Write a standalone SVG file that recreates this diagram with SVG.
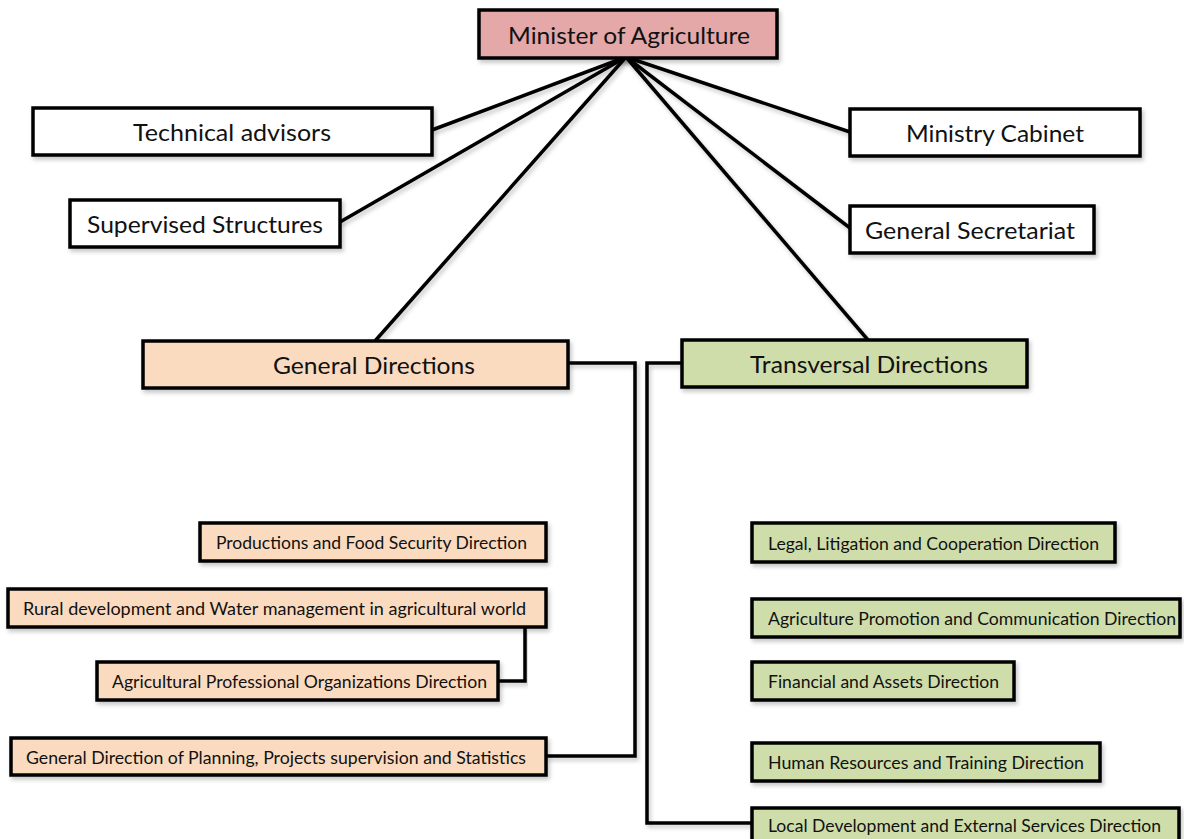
<svg xmlns="http://www.w3.org/2000/svg" width="1184" height="839" viewBox="0 0 1184 839">
  <defs>
    <filter id="shadow" x="-5%" y="-20%" width="115%" height="160%">
      <feDropShadow dx="2" dy="3" stdDeviation="2" flood-color="#000" flood-opacity="0.22"/>
    </filter>
  </defs>
  <style>
    .box { stroke: #000; stroke-width: 3.5; filter: url(#shadow); }
    .white { fill: #ffffff; }
    .minister { fill: #e4a8a8; }
    .general { fill: #fbdbbf; }
    .transversal { fill: #cfddab; }
    .big { font-family: Lato, "Open Sans", sans-serif; font-size: 23px; fill: #111; dominant-baseline: central; }
    .small { font-family: Lato, "Open Sans", sans-serif; font-size: 17px; fill: #111; dominant-baseline: central; }
    .link { fill: none; stroke: #000; stroke-width: 3.5; filter: url(#shadow); }
  </style>
  <rect width="1184" height="839" fill="#ffffff"/>

  <!-- connectors -->
  <g id="connectors">
    <line class="link" x1="626" y1="57" x2="432" y2="130"/>
    <line class="link" x1="626" y1="57" x2="340" y2="222"/>
    <line class="link" x1="626" y1="57" x2="375" y2="341"/>
    <line class="link" x1="626" y1="57" x2="850" y2="132"/>
    <line class="link" x1="626" y1="57" x2="850" y2="228"/>
    <line class="link" x1="626" y1="57" x2="868" y2="340"/>
    <!-- general directions branch -->
    <path class="link" d="M568,363 H635 V756 H546"/>
    <line class="link" x1="546" y1="542" x2="635" y2="542"/>
    <line class="link" x1="546" y1="607" x2="635" y2="607"/>
    <path class="link" d="M525,627 V681 H498"/>
    <!-- transversal directions branch -->
    <path class="link" d="M682,363 H647 V823 H752"/>
    <line class="link" x1="647" y1="542" x2="752" y2="542"/>
    <line class="link" x1="647" y1="618" x2="752" y2="618"/>
    <line class="link" x1="647" y1="681" x2="752" y2="681"/>
    <line class="link" x1="647" y1="762" x2="752" y2="762"/>
  </g>

  <g id="minister">
    <rect class="box minister" x="479" y="10" width="298" height="48"/>
    <text class="big" x="508" y="35" textLength="242" lengthAdjust="spacingAndGlyphs">Minister of Agriculture</text>
  </g>
  <g id="technical-advisors">
    <rect class="box white" x="33" y="108" width="399" height="47"/>
    <text class="big" x="133" y="132" textLength="198" lengthAdjust="spacingAndGlyphs">Technical advisors</text>
  </g>
  <g id="supervised-structures">
    <rect class="box white" x="70" y="200" width="270" height="47"/>
    <text class="big" x="87" y="224" textLength="236" lengthAdjust="spacingAndGlyphs">Supervised Structures</text>
  </g>
  <g id="ministry-cabinet">
    <rect class="box white" x="850" y="109" width="290" height="47"/>
    <text class="big" x="906" y="133" textLength="178" lengthAdjust="spacingAndGlyphs">Ministry Cabinet</text>
  </g>
  <g id="general-secretariat">
    <rect class="box white" x="850" y="206" width="244" height="47"/>
    <text class="big" x="865" y="230" textLength="210" lengthAdjust="spacingAndGlyphs">General Secretariat</text>
  </g>
  <g id="general-directions">
    <rect class="box general" x="143" y="341" width="425" height="47"/>
    <text class="big" x="273" y="365" textLength="202" lengthAdjust="spacingAndGlyphs">General Directions</text>
  </g>
  <g id="transversal-directions">
    <rect class="box transversal" x="682" y="340" width="345" height="47"/>
    <text class="big" x="750" y="364" textLength="238" lengthAdjust="spacingAndGlyphs">Transversal Directions</text>
  </g>

  <g id="productions-food-security">
    <rect class="box general" x="200" y="523" width="346" height="38"/>
    <text class="small" x="216" y="542" textLength="311" lengthAdjust="spacingAndGlyphs">Productions and Food Security Direction</text>
  </g>
  <g id="rural-development">
    <rect class="box general" x="8" y="589" width="538" height="38"/>
    <text class="small" x="23" y="608" textLength="503" lengthAdjust="spacingAndGlyphs">Rural development and Water management in agricultural world</text>
  </g>
  <g id="agricultural-professional">
    <rect class="box general" x="97" y="662" width="401" height="38"/>
    <text class="small" x="112" y="681" textLength="375" lengthAdjust="spacingAndGlyphs">Agricultural Professional Organizations Direction</text>
  </g>
  <g id="planning-statistics">
    <rect class="box general" x="11" y="738" width="535" height="37"/>
    <text class="small" x="26" y="757" textLength="500" lengthAdjust="spacingAndGlyphs">General Direction of Planning, Projects supervision and Statistics</text>
  </g>

  <g id="legal-litigation">
    <rect class="box transversal" x="752" y="523" width="363" height="39"/>
    <text class="small" x="768" y="543" textLength="331" lengthAdjust="spacingAndGlyphs">Legal, Litigation and Cooperation Direction</text>
  </g>
  <g id="promotion-communication">
    <rect class="box transversal" x="752" y="599" width="428" height="38"/>
    <text class="small" x="768" y="618" textLength="408" lengthAdjust="spacingAndGlyphs">Agriculture Promotion and Communication Direction</text>
  </g>
  <g id="financial-assets">
    <rect class="box transversal" x="752" y="662" width="262" height="38"/>
    <text class="small" x="768" y="681" textLength="231" lengthAdjust="spacingAndGlyphs">Financial and Assets Direction</text>
  </g>
  <g id="human-resources">
    <rect class="box transversal" x="752" y="743" width="348" height="38"/>
    <text class="small" x="768" y="762" textLength="316" lengthAdjust="spacingAndGlyphs">Human Resources and Training Direction</text>
  </g>
  <g id="local-development">
    <rect class="box transversal" x="752" y="808" width="427" height="40"/>
    <text class="small" x="768" y="825" textLength="393" lengthAdjust="spacingAndGlyphs">Local Development and External Services Direction</text>
  </g>
</svg>
